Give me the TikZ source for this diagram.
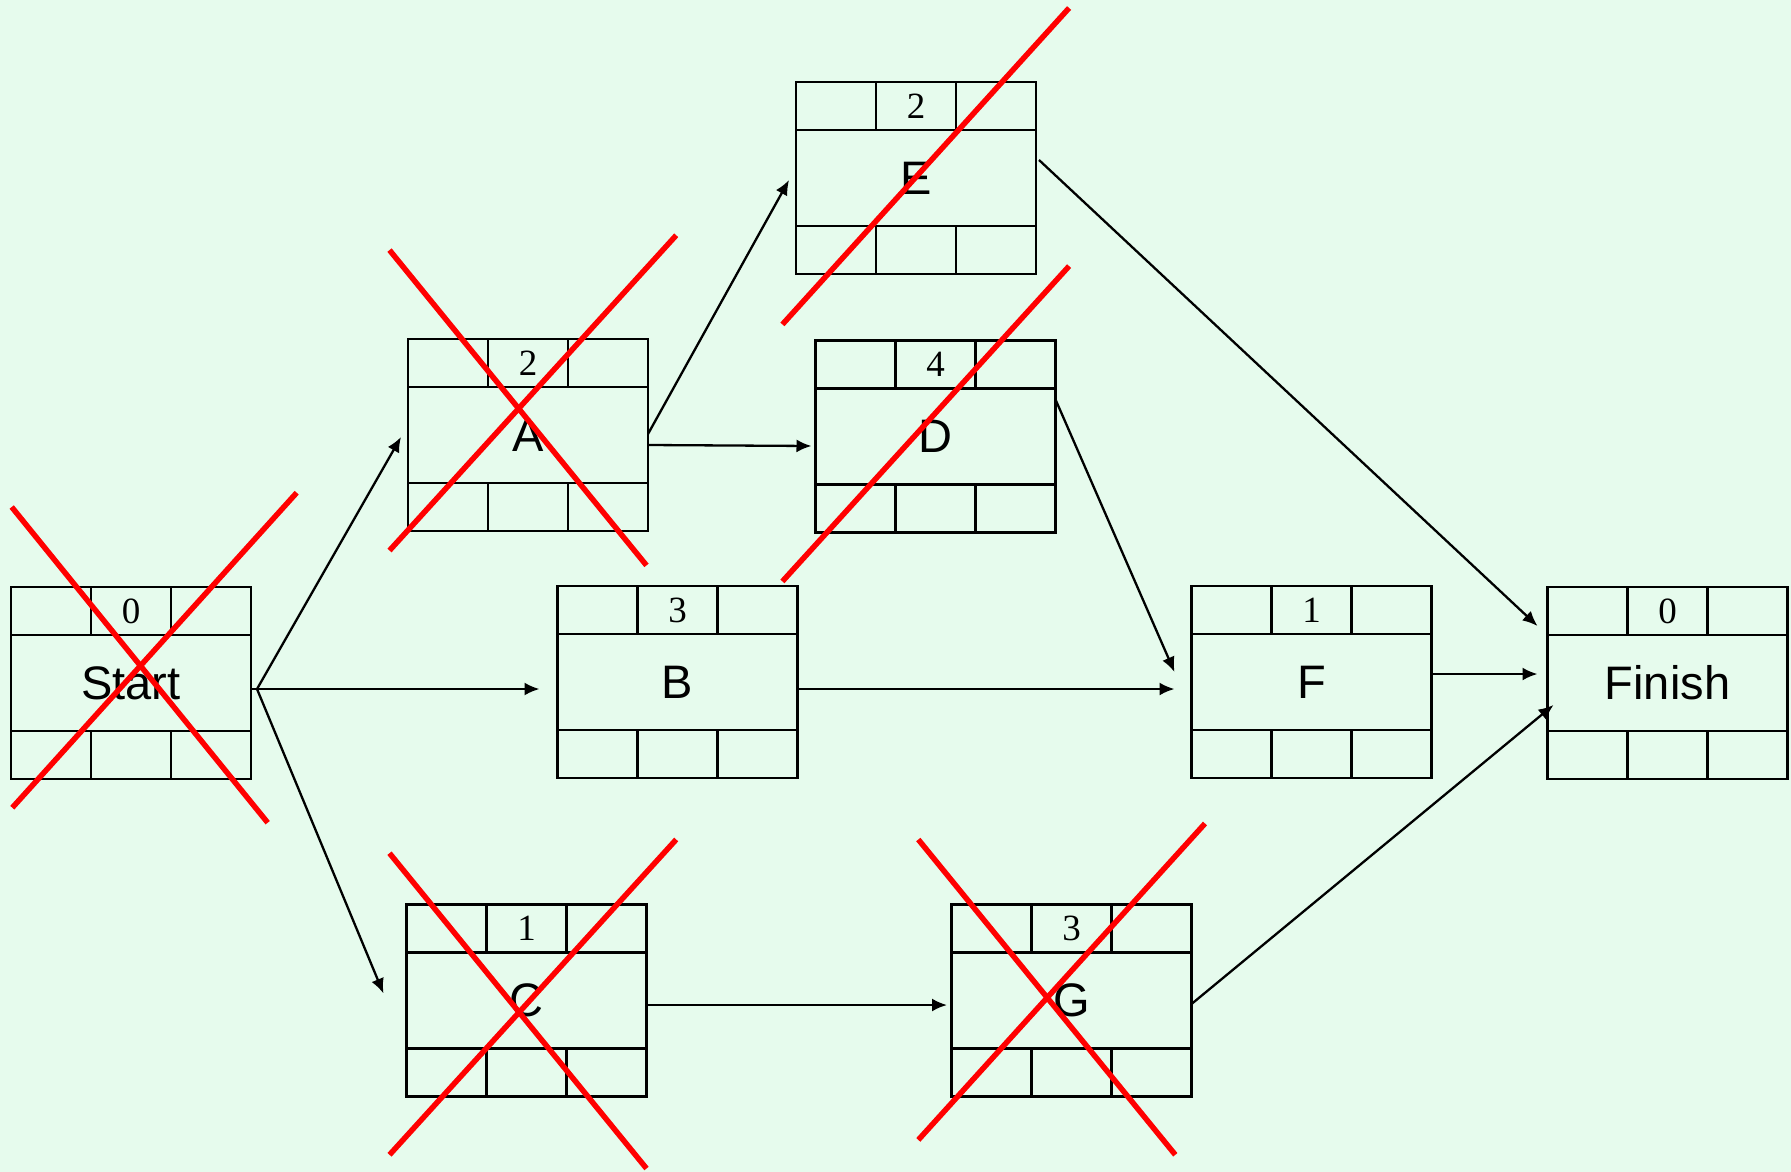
\documentclass[tikz,border=0pt]{standalone}
\usepackage{fontspec}
\setmainfont{Liberation Serif}
\newfontfamily\labfont{Liberation Sans}
\usetikzlibrary{arrows.meta,calc}
\definecolor{bgc}{RGB}{230,251,237}
\definecolor{crossred}{RGB}{255,0,0}
\tikzset{
  actbox/.style={draw=black,line width=2.8pt,minimum width=240pt,minimum height=192pt,inner sep=0pt,outer sep=0pt,anchor=north west},
  gridline/.style={line width=2.8pt},
  conn/.style={line width=2.3pt,-{Latex[length=15pt,width=13pt]}},
  strike/.style={draw=crossred,line width=5.5pt},
  durtext/.style={font=\fontsize{37}{37}\selectfont,inner sep=0pt},
  nametext/.style={font=\labfont\fontsize{47}{47}\selectfont,inner sep=0pt}
}
\newcommand{\actnode}[5]{%
  \node[actbox] (#1) at (#2,#3) {};
  \draw[gridline] ($(#1.north west)+(0,48)$) -- ($(#1.north east)+(0,48)$);
  \draw[gridline] ($(#1.north west)+(0,144)$) -- ($(#1.north east)+(0,144)$);
  \draw[gridline] ($(#1.north west)+(80,0)$) -- ($(#1.north west)+(80,48)$);
  \draw[gridline] ($(#1.north west)+(160,0)$) -- ($(#1.north west)+(160,48)$);
  \draw[gridline] ($(#1.north west)+(80,144)$) -- ($(#1.north west)+(80,192)$);
  \draw[gridline] ($(#1.north west)+(160,144)$) -- ($(#1.north west)+(160,192)$);
  \node[durtext] (#1-d) at ($(#1.north west)+(120,24)$) {#4};
  \node[nametext] (#1-n) at ($(#1.north west)+(120,96)$) {#5};
}
\begin{document}
\begin{tikzpicture}[x=1pt,y=-1pt]
\fill[bgc] (0,0) rectangle (1791,1172);
\useasboundingbox (0,0) rectangle (1791,1172);

\actnode{Start}{11}{587}{0}{Start}
\actnode{A}{408}{339}{2}{A}
\actnode{E}{796}{82}{2}{E}
\actnode{D}{815.5}{340.5}{4}{D}
\actnode{B}{557.5}{586}{3}{B}
\actnode{F}{1191.5}{586}{1}{F}
\actnode{Finish}{1547.5}{587}{0}{Finish}
\actnode{C}{406.5}{904.5}{1}{C}
\actnode{G}{951.5}{904.5}{3}{G}

\coordinate (fan) at ($(Start.east)+(6,6)$);
\draw[line width=2.3pt] (Start.east |- fan) -- (fan);
\draw[conn] (fan) -- ($(A.west)+(-7,2)$);
\draw[conn] (fan) -- ($(B.west)+(-18,7)$);
\draw[conn] (fan) -- ($(C.west)+(-23,-7)$);
\draw[conn] ($(A.east)+(0,-1)$) -- ($(E.west)+(-7,2)$);
\draw[conn] ($(A.east)+(0,10)$) -- ($(D.west)+(-4,9.5)$);
\draw[conn] ($(E.east)+(3,-18)$) -- ($(Finish.north west)+(-10,39)$);
\draw[conn] ($(D.east)+(0,-37)$) -- ($(F.west)+(-17,-10)$);
\draw[conn] ($(B.east)+(0,7)$) -- ($(F.west)+(-17,7)$);
\draw[conn] ($(F.east)+(0,-8)$) -- ($(Finish.west)+(-10,-9)$);
\draw[conn] ($(C.east)+(0,4.5)$) -- ($(G.west)+(-4.5,4.5)$);
\draw[conn] ($(G.east)+(0,3.5)$) -- ($(Finish.west)+(6,22)$);

% red crosses
\draw[strike] (11.7,507) -- (267.7,822.7);
\draw[strike] (12.3,807.7) -- (296.7,492.7);
\draw[strike] (389.5,250.1) -- (646.5,565.4);
\draw[strike] (389.5,550.5) -- (676.2,235.3);
\draw[strike] (782.4,324.4) -- (1069.1,8);
\draw[strike] (782.4,581.4) -- (1069.1,266.1);
\draw[strike] (389.5,853.2) -- (646.5,1168.5);
\draw[strike] (389.5,1154.8) -- (676.2,839.5);
\draw[strike] (918.3,839.5) -- (1175.3,1154.8);
\draw[strike] (918.3,1139.9) -- (1205,823.5);
\end{tikzpicture}
\end{document}
